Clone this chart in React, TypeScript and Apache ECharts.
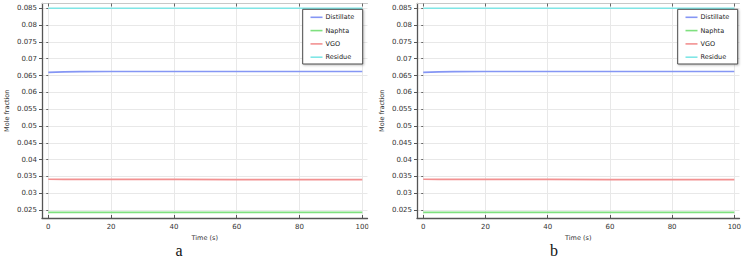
import React, { useEffect, useRef } from "react";
import * as echarts from "echarts";

const seriesNames = ["Distillate", "Naphta", "VGO", "Residue"];
const seriesColors = ["#8596f4", "#7fe07f", "#f29191", "#80e6e6"];
const time = [0, 5, 10, 20, 40, 60, 80, 100];
const distillate = [0.06595, 0.0661, 0.06615, 0.0662, 0.0662, 0.0662, 0.0662, 0.0662];
const naphta = [0.0243, 0.0243, 0.0243, 0.0243, 0.0243, 0.0243, 0.0243, 0.0243];
const vgo = [0.03415, 0.0341, 0.0341, 0.0341, 0.0341, 0.03405, 0.03405, 0.03405];
const residue = [0.085, 0.085, 0.085, 0.085, 0.085, 0.085, 0.085, 0.085];
const xTicks = [0, 20, 40, 60, 80, 100];
const yTicks = [0.025, 0.03, 0.035, 0.04, 0.045, 0.05, 0.055, 0.06, 0.065, 0.07, 0.075, 0.08, 0.085];
const panelLabels = ["a", "b"];
const xName = "Time (s)";
const yName = "Mole fraction";

const X_MIN = -2;
const X_MAX = 101.66;
const Y_MIN = 0.02262;
const Y_MAX = 0.08643;

export default function App() {
  const ref = useRef<HTMLDivElement>(null);
  useEffect(() => {
    if (!ref.current) return;
    const chart = echarts.init(ref.current, undefined, { renderer: "svg" });
    const font = "DejaVu Sans";
    const panels = [0, 1];
    const offsets = [42, 417];
    const grids = panels.map((p) => ({
      left: offsets[p],
      top: 3.5,
      width: 325.5,
      height: 214.5,
      containLabel: false,
    }));
    const xAxes: any[] = [];
    const yAxes: any[] = [];
    panels.forEach((p) => {
      xAxes.push({
        type: "value",
        gridIndex: p,
        position: "bottom",
        min: X_MIN,
        max: X_MAX,
        name: xName,
        nameLocation: "middle",
        nameGap: 10,
        nameTextStyle: { fontFamily: font, fontSize: 6.5, color: "#333" },
        axisLine: { show: true, onZero: false, lineStyle: { color: "#555", width: 1.3 } },
        axisTick: { show: true, inside: true, length: 3, customValues: xTicks, lineStyle: { color: "#555" } },
        axisLabel: { customValues: xTicks, fontFamily: font, fontSize: 7, color: "#333", margin: 5 },
        splitLine: { show: true, lineStyle: { color: "#e8e8e8", width: 1 } },
      });
      xAxes.push({
        type: "value",
        gridIndex: p,
        position: "top",
        min: X_MIN,
        max: X_MAX,
        axisLine: { show: true, onZero: false, lineStyle: { color: "#c8c8c8", width: 1 } },
        axisTick: { show: true, inside: true, length: 3, customValues: xTicks, lineStyle: { color: "#666" } },
        axisLabel: { show: false },
        splitLine: { show: false },
      });
      yAxes.push({
        type: "value",
        gridIndex: p,
        position: "left",
        min: Y_MIN,
        max: Y_MAX,
        name: yName,
        nameLocation: "middle",
        nameGap: 32,
        nameRotate: 90,
        nameTextStyle: { fontFamily: font, fontSize: 6.5, color: "#333" },
        axisLine: { show: true, onZero: false, lineStyle: { color: "#555", width: 1.3 } },
        axisTick: { show: true, inside: false, length: 3, customValues: yTicks, lineStyle: { color: "#555" } },
        axisLabel: { customValues: yTicks, fontFamily: font, fontSize: 7, color: "#333", margin: 5 },
        splitLine: { show: true, lineStyle: { color: "#e8e8e8", width: 1 } },
      });
      yAxes.push({
        type: "value",
        gridIndex: p,
        position: "right",
        min: Y_MIN,
        max: Y_MAX,
        axisLine: { show: false },
        axisTick: { show: true, inside: true, length: 2, customValues: yTicks, lineStyle: { color: "#666" } },
        axisLabel: { show: false },
        splitLine: { show: false },
      });
    });

    const values = [distillate, naphta, vgo, residue];
    const series: any[] = [];
    panels.forEach((p) => {
      seriesNames.forEach((name, i) => {
        series.push({
          type: "line",
          name,
          xAxisIndex: p * 2,
          yAxisIndex: p * 2,
          data: time.map((t, k) => [t, values[i][k]]),
          showSymbol: false,
          symbol: "none",
          smooth: false,
          lineStyle: { color: seriesColors[i], width: 1.6 },
          itemStyle: { color: seriesColors[i] },
          z: 3,
        });
      });
    });

    const legends = panels.map((p) => ({
      orient: "vertical",
      left: offsets[p] + 268.5,
      top: 13.8,
      padding: 0,
      itemGap: 6.3,
      itemWidth: 12,
      itemHeight: 1.6,
      icon: "rect",
      z: 10,
      selectedMode: false,
      data: seriesNames,
      textStyle: { fontFamily: font, fontSize: 6.5, color: "#222", padding: [0, 0, 0, -2] },
    }));

    const graphic: any[] = [];
    panels.forEach((p) => {
      graphic.push({
        type: "rect",
        z: 5,
        shape: { x: offsets[p] + 260.7, y: 9.3, width: 60, height: 54.7 },
        style: {
          fill: "#ffffff",
          stroke: "#4a4a4a",
          lineWidth: 1,
          shadowBlur: 2,
          shadowOffsetX: 1,
          shadowOffsetY: 1,
          shadowColor: "rgba(0,0,0,0.25)",
        },
      });
      graphic.push({
        type: "text",
        z: 10,
        x: offsets[p] + 137,
        y: 250,
        style: {
          text: panelLabels[p],
          fontFamily: "Liberation Serif",
          fontSize: 16,
          fill: "#111",
          textAlign: "center",
          textVerticalAlign: "middle",
        },
      });
    });
    graphic.push({
      type: "rect",
      z: 20,
      shape: { x: 368.5, y: 219.5, width: 14, height: 12 },
      style: { fill: "#ffffff" },
    });

    chart.setOption({
      animation: false,
      backgroundColor: "#ffffff",
      grid: grids,
      xAxis: xAxes,
      yAxis: yAxes,
      legend: legends,
      series,
      graphic,
    });
    return () => chart.dispose();
  }, []);
  return (
    <div
      ref={ref}
      style={{ position: "absolute", left: 0, top: 0, width: 744, height: 260 }}
    />
  );
}
